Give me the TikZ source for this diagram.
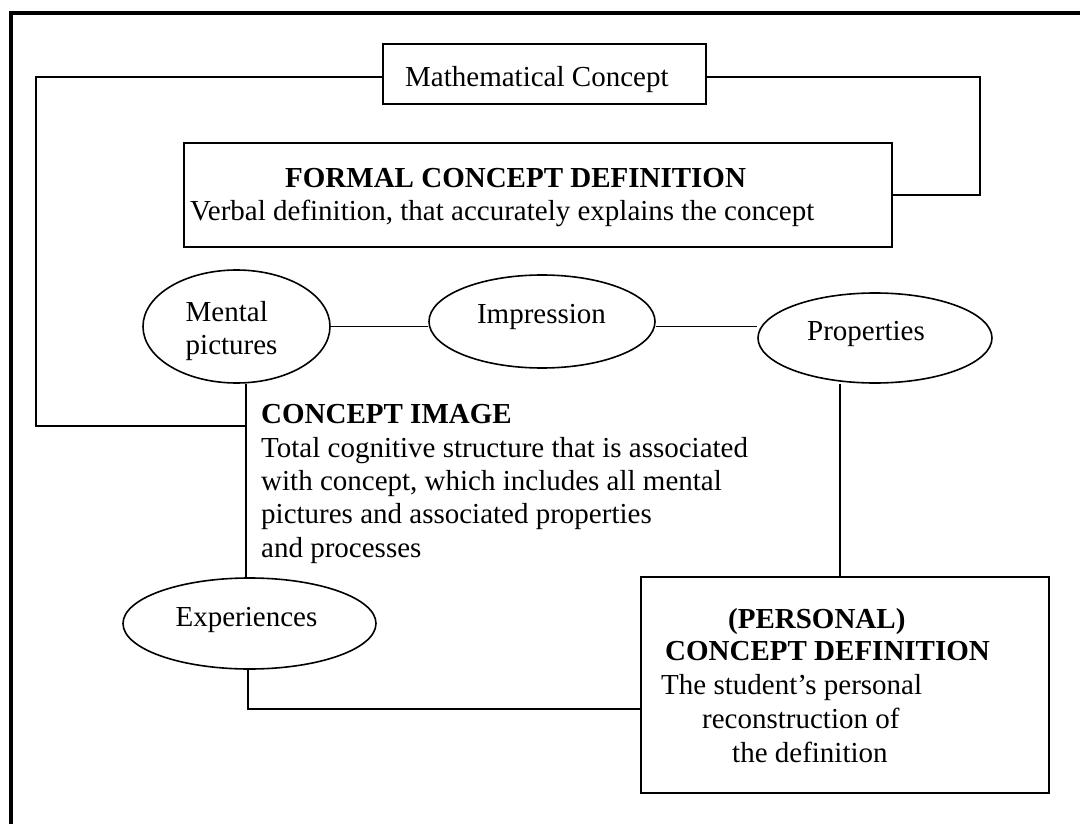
\documentclass[tikz,border=0pt]{standalone}
\usepackage{fontspec}
\setmainfont{Liberation Serif}
\usetikzlibrary{shapes.geometric}
\tikzset{
  box/.style={draw, line width=1.8pt, rectangle, inner sep=0pt},
  oval/.style={draw, line width=1.6pt, ellipse, inner sep=0pt},
  conn/.style={line width=1.7pt},
  frameline/.style={line width=3.8pt},
  txt/.style={anchor=base west, inner sep=0pt, font=\fontsize{29pt}{33.5pt}\selectfont},
  ctxt/.style={anchor=base, inner sep=0pt, font=\fontsize{29pt}{33.5pt}\selectfont},
  btxt/.style={txt, font=\fontsize{29pt}{33.5pt}\selectfont\bfseries}
}
\begin{document}
\begin{tikzpicture}[x=1pt, y=-1pt]
\fill[white] (0,0) rectangle (1080,824);
\useasboundingbox (0,0) rectangle (1080,824);
% outer frame (top and left only)
\coordinate (fTL) at (11,13);
\coordinate (fTR) at (1080,13);
\coordinate (fBL) at (11,824);
\draw[frameline] (fTR) -- (fTL) -- (fBL);

% boxes
\node[box, minimum width=323pt, minimum height=60pt] (math) at (544.5,74) {};
\node[box, minimum width=708pt, minimum height=104pt] (formal) at (538,195) {};
\node[box, minimum width=408pt, minimum height=216pt] (pcd) at (845,685) {};

% ellipses
\node[oval, minimum width=187pt, minimum height=113pt] (mental) at (236.5,326.5) {};
\node[oval, minimum width=226pt, minimum height=93pt] (impr) at (542,321.5) {};
\node[oval, minimum width=234pt, minimum height=90pt] (props) at (875,338) {};
\node[oval, minimum width=253pt, minimum height=91pt] (exper) at (249.5,623.5) {};

% texts
\node[txt] (tmath) at (405,87) {Mathematical Concept};
\node[btxt] (tformal1) at (285,188) {FORMAL CONCEPT DEFINITION};
\node[txt] (tformal2) at (190,221) {Verbal definition, that accurately explains the concept};
\node[txt] (tment1) at (185.5,321) {Mental};
\node[txt] (tment2) at (185.5,354) {pictures};
\node[ctxt] (timpr) at (541.5,323) {Impression};
\node[ctxt] (tprops) at (866,340) {Properties};
\node[btxt] (tci0) at (261,423) {CONCEPT IMAGE};
\node[txt] (tci1) at (261,457) {Total cognitive structure that is associated};
\node[txt] (tci2) at (261,490) {with concept, which includes all mental};
\node[txt] (tci3) at (261,523.5) {pictures and associated properties};
\node[txt] (tci4) at (261,557) {and processes};
\node[ctxt] (texper) at (246.5,626) {Experiences};
\node[btxt] (tpcd1) at (728,628) {(PERSONAL)};
\node[btxt] (tpcd2) at (665,660) {CONCEPT DEFINITION};
\node[txt] (tpcd3) at (661,694) {The student’s personal};
\node[txt] (tpcd4) at (702,728) {reconstruction of};
\node[txt] (tpcd5) at (732,762) {the definition};

% connectors
\coordinate (lcorner1) at (36,77);
\coordinate (lcorner2) at (36,426);
\coordinate (cijoin) at (246,426);
\coordinate (rcorner1) at (980,77);
\coordinate (rcorner2) at (980,195);
\coordinate (pcdjoin) at (840,0);
\coordinate (expjoin) at (248,709);

\draw[conn] ([yshift=-3pt]math.west) -- (lcorner1) -- (lcorner2) -- (cijoin);
\draw[conn] ([yshift=-3pt]math.east) -- (rcorner1) -- (rcorner2) -- (formal.east);
\draw[conn] (mental.east) -- (mental.east -| impr.west);
\draw[conn] (impr.east |- mental.east) -- (props.west |- mental.east);
\draw[conn] (mental.south -| cijoin) -- (exper.north -| cijoin);
\draw[conn] (props.south -| pcdjoin) -- (pcd.north -| pcdjoin);
\draw[conn] (exper.south -| expjoin) -- (expjoin) -- (expjoin -| pcd.west);
\end{tikzpicture}
\end{document}
